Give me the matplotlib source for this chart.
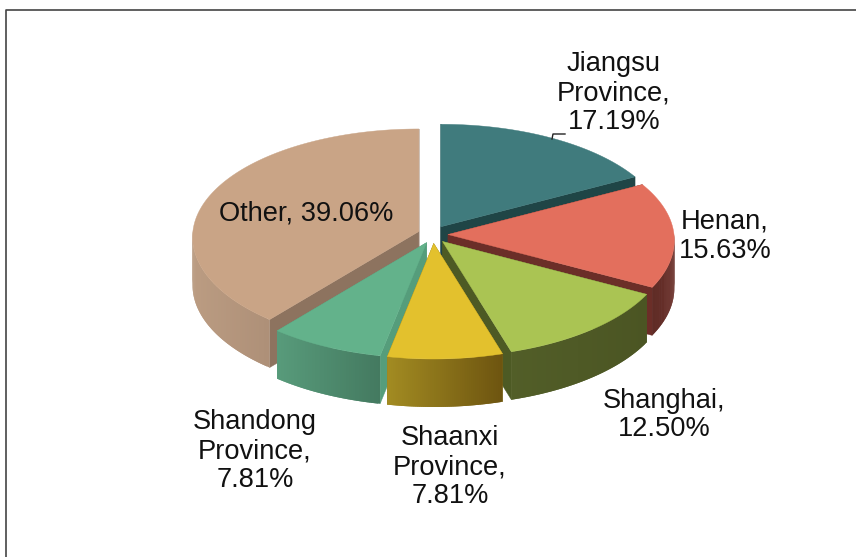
#!/usr/bin/env python3
"""Exploded 3D-look pie: share by province, drawn in pixel coords."""

import numpy as np
import matplotlib
matplotlib.use('Agg')
import matplotlib.pyplot as plt
from matplotlib.colors import to_rgb

plt.rcParams['font.family'] = ['Liberation Sans', 'DejaVu Sans']

# clockwise from 12 o'clock
names = ['Jiangsu', 'Henan', 'Shanghai', 'Shaanxi', 'Shandong', 'Other']
shares = [17.19, 15.63, 12.50, 7.81, 7.81, 39.06]
labels = ['Jiangsu\nProvince,\n17.19%', 'Henan,\n15.63%', 'Shanghai,\n12.50%',
          'Shaanxi\nProvince,\n7.81%', 'Shandong\nProvince,\n7.81%', 'Other, 39.06%']
top_colors = ['#407b7d', '#e36f5d', '#aac453', '#e3c12d', '#63b28b', '#c9a486']
cut_colors = ['#1f4546', '#6b2e28', '#4d5a24', '#7d6a14', '#559d7b', '#8d735f']
wall_left = ['#2a5556', '#5f2c26', '#525e28', '#a38c22', '#589b7b', '#bb9c82']
wall_right = ['#2a5556', '#6b302a', '#4b5523', '#6e5510', '#447a60', '#ae9078']

label_x = [614, 725, 664, 450, 255, 306]
label_y = [93, 236, 415, 467, 451, 213]

CX, CY = 433, 234.5
EX, EY = 15, 9      # explosion offset
DEPTH = 48
DRAW_ORDER = ['Other', 'Jiangsu', 'Henan', 'Shandong', 'Shanghai', 'Shaanxi']


def rim(theta):
    # near side of the pie is a bit bigger, fake perspective
    c = np.cos(theta)
    rx = 226 - 12 * c
    ry = 109 - 6.5 * c
    return rx * np.sin(theta), -ry * c


def draw_slice(ax, i, t0, t1):
    mid = (t0 + t1) / 2
    ax_x = CX + EX * np.sin(mid)
    ax_y = CY - EY * np.cos(mid)

    # cut faces
    for t in (t0, t1):
        dx, dy = rim(t)
        ax.fill([ax_x, ax_x + dx, ax_x + dx, ax_x],
                [ax_y, ax_y + dy, ax_y + dy + DEPTH, ax_y + DEPTH],
                color=cut_colors[i], lw=0.3, zorder=i_z[i])

    # outer wall, only front half shows
    lo, hi = max(t0, np.pi / 2), min(t1, 3 * np.pi / 2)
    if hi > lo:
        ts = np.linspace(lo, hi, 60)
        xs, ys = rim(ts)
        xs, ys = xs + ax_x, ys + ax_y
        left, right = np.array(to_rgb(wall_left[i])), np.array(to_rgb(wall_right[i]))
        span = xs.max() - xs.min()
        # overlap each strip with the next one so no seams show
        for j in range(len(ts) - 1):
            k = min(j + 3, len(ts))
            f = (xs[j] - xs.min()) / span
            col = left + (right - left) * f
            ax.fill(np.r_[xs[j:k], xs[j:k][::-1]],
                    np.r_[ys[j:k], ys[j:k][::-1] + DEPTH],
                    color=col, lw=0, zorder=i_z[i])

    # top face
    ts = np.linspace(t0, t1, 120)
    xs, ys = rim(ts)
    ax.fill(np.r_[ax_x, xs + ax_x], np.r_[ax_y, ys + ax_y],
            color=top_colors[i], lw=0.3, zorder=i_z[i] + 0.5)


fig = plt.figure(figsize=(8.56, 5.57), dpi=100)
ax = fig.add_axes([0, 0, 1, 1])
ax.set_xlim(0, 856)
ax.set_ylim(557, 0)
ax.axis('off')

i_z = {names.index(n): k + 1 for k, n in enumerate(DRAW_ORDER)}
edges = np.cumsum([0] + shares) / 100 * 2 * np.pi
for i in range(len(names)):
    draw_slice(ax, i, edges[i], edges[i + 1])

# chart frame, only top and left survive in the crop
ax.plot([6, 6, 856], [557, 10, 10], color='#444444', lw=1.2, zorder=20)

# leader line for Jiangsu
ax.plot([565, 553, 552], [134, 134, 139], color='#222222', lw=1.0, zorder=20)

for s, x, y in zip(labels, label_x, label_y):
    ax.text(x, y, s, ha='center', va='center', fontsize=19.6, color='#111111',
            linespacing=1.15, zorder=30)

fig.savefig('out.png', dpi=100)
